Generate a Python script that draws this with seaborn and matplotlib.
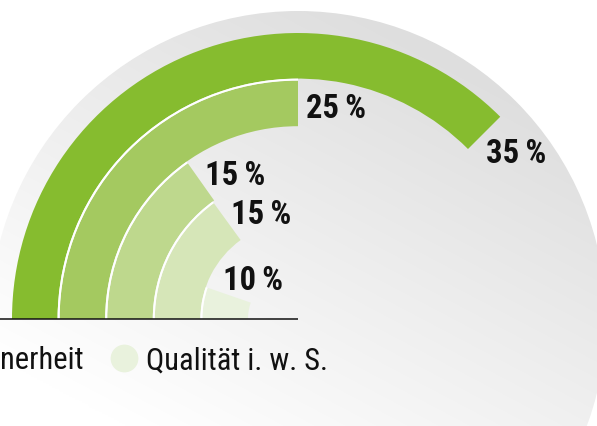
import numpy as np
import matplotlib
matplotlib.use('Agg')
import matplotlib.pyplot as plt
from matplotlib.lines import Line2D
from matplotlib.patches import Circle
import seaborn as sns

# Daten
werte = [35, 25, 15, 15, 10]              # Beschriftung der Ringe (in %)
bogen = [37.5, 25, 15.2, 15, 5.3]         # gezeichnete Bogenlaenge (100 = Vollkreis)
farben = ['#86bc2f', '#a4c960', '#bed88d', '#d6e6b8', '#e9f2dd']
# Legende: im Ausschnitt nur teilweise sichtbar
legende = ['nerheit', 'Qualität i. w. S.']
legende_farben = [farben[3], farben[4]]

sns.set_style('white')
FAMILIEN = ['Liberation Sans Narrow', 'Roboto Condensed', 'DejaVu Sans']
plt.rcParams['font.family'] = FAMILIEN
plt.rcParams['font.stretch'] = 'condensed'

# Geometrie in Pixeln (Bild 597x427)
W, H = 597, 427
CX, CY = 298, 320          # Mittelpunkt des Halbkreises
R_BG = 308                 # grauer Hintergrundkreis
R_OUT = 286                # Aussenradius des aeusseren Rings
BREITE = 45.6
PITCH = 47.6

fig = plt.figure(figsize=(W / 100, H / 100), dpi=100)
pos = [(CX - R_BG) / W, (H - CY - R_BG) / H, 2 * R_BG / W, 2 * R_BG / H]

# Hintergrund: grauer Kreis mit Verlauf
bg = fig.add_axes(pos)
bg.set_xlim(-1, 1)
bg.set_ylim(-1, 1)
bg.axis('off')
xx, yy = np.meshgrid(np.linspace(-1, 1, 400), np.linspace(-1, 1, 400))
g = np.clip(243 - 9.9 * xx - 18.8 * yy, 222, 255) / 255
im = bg.imshow(np.dstack([g, g, g]), extent=(-1, 1, -1, 1), origin='lower',
               interpolation='bilinear')
im.set_clip_path(Circle((0, 0), 1, transform=bg.transData))

# Ringe als polare Balken
ax = fig.add_axes(pos, projection='polar')
ax.patch.set_alpha(0)
ax.set_theta_zero_location('W')
ax.set_theta_direction(-1)
ax.set_ylim(0, R_BG)
ax.set_axis_off()

theta = np.deg2rad(np.array(bogen) * 3.6)
aussen = R_OUT - PITCH * np.arange(len(werte))
innen = aussen - BREITE

ax.bar(np.zeros(len(werte)), BREITE, width=theta, bottom=innen, align='edge',
       color=farben, linewidth=0)
# weisse Trennfugen zwischen den Ringen
ax.bar(np.zeros(len(werte) - 1), PITCH - BREITE, width=theta[1:], bottom=aussen[1:],
       align='edge', color='white', linewidth=0)

# Grundlinie
ax.plot([0, 0], [0, R_BG], color='#111111', lw=1.1, solid_capstyle='butt', zorder=5)

# Prozentbeschriftungen hinter dem Ende jedes Rings
d = 21
for w, th, r in zip(werte, theta, (aussen + innen) / 2):
    phi = np.pi - th
    ax.annotate(f'{w}\u2009%', xy=(th, r),
                xytext=(d * np.sin(phi) - 13, -d * np.cos(phi) - 5),
                textcoords='offset pixels', ha='left', va='center',
                fontsize=23.5, fontweight='bold', color='#111111')

# Legende
LEG_PT = 22
em = LEG_PT * 100 / 72
handles = [Line2D([], [], ls='none', marker='o', markersize=20,
                  markerfacecolor=c, markeredgewidth=0) for c in legende_farben]
fig.legend(handles, legende, ncol=2, loc='center left',
           bbox_to_anchor=(-36 / W, (H - 361) / H), frameon=False,
           prop=dict(family=FAMILIEN, size=LEG_PT, stretch='condensed'),
           handlelength=28 / em, handletextpad=8 / em, columnspacing=26 / em,
           borderpad=0, borderaxespad=0, labelcolor='#111111')

fig.savefig('out.png', dpi=100)
